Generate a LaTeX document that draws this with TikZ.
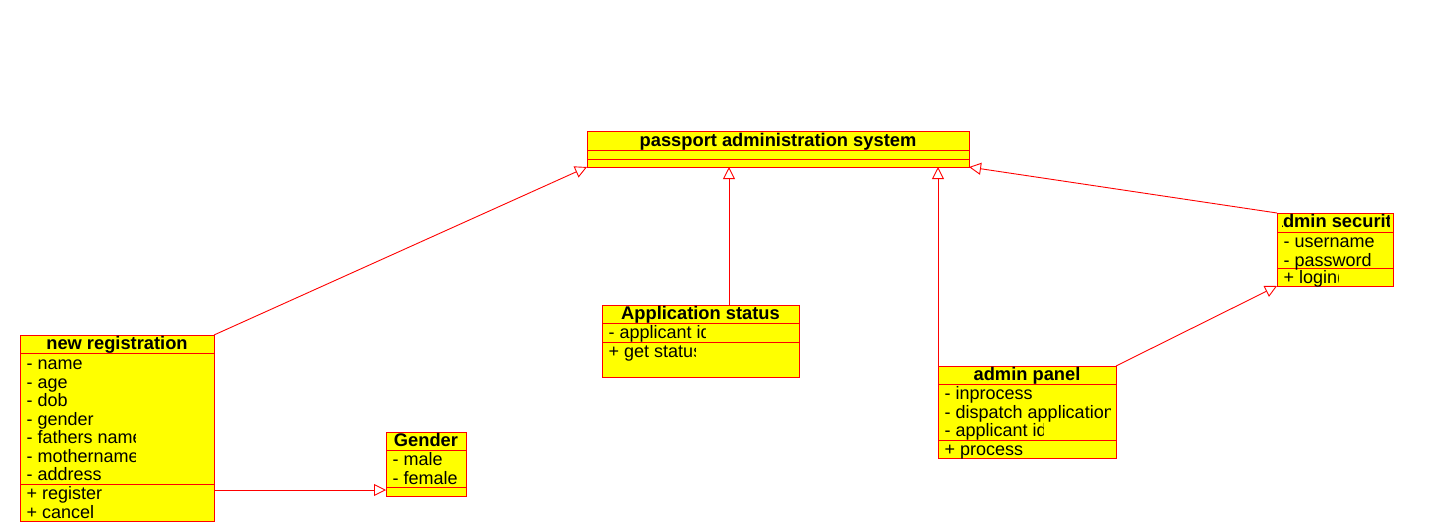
\documentclass[tikz,border=0pt]{standalone}
\usepackage{fontspec}
\setmainfont{Liberation Sans}
\usetikzlibrary{arrows.meta}
\definecolor{boxfill}{RGB}{255,255,0}
\definecolor{boxline}{RGB}{255,0,0}
\tikzset{
 cls/.style={draw=boxline, fill=boxfill, line width=0.9pt, inner sep=0pt, outer sep=0pt, anchor=north west},
 sep/.style={draw=boxline, line width=0.9pt},
 ttl/.style={font=\fontsize{18.3}{19}\selectfont\bfseries, inner sep=0pt, anchor=base},
 attr/.style={font=\fontsize{18}{19}\selectfont, inner sep=0pt, anchor=base west},
 inh/.style={draw=boxline, line width=0.9pt, -{Triangle[open, length=12pt, width=12pt]}},
}
\newcommand\clipline[5]{\begin{scope}\clip (#2-1,#3-17) rectangle (#4,#3+6);\node[attr] (#1) at (#2,#3) {#5};\end{scope}}
\begin{document}
\begin{tikzpicture}[x=1pt,y=-1pt]
\useasboundingbox (0,0) rectangle (1442,525);
% boxes
\node[cls, minimum width=382pt, minimum height=36pt] (pas) at (587,131) {};
\node[cls, minimum width=194pt, minimum height=186pt] (nr) at (20,335) {};
\node[cls, minimum width=80pt, minimum height=64pt] (g) at (386,432) {};
\node[cls, minimum width=197pt, minimum height=72pt] (as) at (602,305) {};
\node[cls, minimum width=178pt, minimum height=92pt] (ap) at (938,366) {};
\node[cls, minimum width=116pt, minimum height=73pt] (sec) at (1277,213) {};
% separators
\draw[sep] (pas.west |- 0,150) -- (pas.east |- 0,150);
\draw[sep] (pas.west |- 0,159) -- (pas.east |- 0,159);
\draw[sep] (nr.west |- 0,353) -- (nr.east |- 0,353);
\draw[sep] (nr.west |- 0,484) -- (nr.east |- 0,484);
\draw[sep] (g.west |- 0,450) -- (g.east |- 0,450);
\draw[sep] (g.west |- 0,487) -- (g.east |- 0,487);
\draw[sep] (as.west |- 0,323) -- (as.east |- 0,323);
\draw[sep] (as.west |- 0,342) -- (as.east |- 0,342);
\draw[sep] (ap.west |- 0,384) -- (ap.east |- 0,384);
\draw[sep] (ap.west |- 0,440) -- (ap.east |- 0,440);
\draw[sep] (sec.west |- 0,232) -- (sec.east |- 0,232);
\draw[sep] (sec.west |- 0,268) -- (sec.east |- 0,268);
% connectors
\draw[inh] (nr.north east) -- (pas.south west);
\draw[inh] ([xshift=127pt]as.north west) -- ([xshift=127pt]as.north west |- pas.south);
\draw[inh] (ap.north west) -- (ap.north west |- pas.south);
\draw[inh] (sec.north west) -- (pas.south east);
\draw[inh] (ap.north east) -- (sec.south west);
\draw[inh] (nr.east |- 0,490) -- (g.west |- 0,490);
% texts
\node[ttl] (past) at (pas.north |- 0,146) {passport administration system};
\node[ttl] (nrt) at (nr.north |- 0,349.5) {new registration};
\node[attr] (nr1) at (26.5,369.5) {- name};
\node[attr] (nr2) at (26.5,388) {- age};
\node[attr] (nr3) at (26.5,406.5) {- dob};
\node[attr] (nr4) at (26.5,425) {- gender};
\clipline{nr5}{26.5}{443.5}{135}{- fathers name}
\clipline{nr6}{26.5}{462}{135}{- mothername}
\node[attr] (nr7) at (26.5,480.5) {- address};
\clipline{nr8}{26.5}{499.5}{101}{+ register}
\clipline{nr9}{26.5}{518}{94}{+ cancel}
\node[ttl] (gt) at (g.north |- 0,446.5) {Gender};
\node[attr] (g1) at (392.5,465.5) {- male};
\node[attr] (g2) at (392.5,484) {- female};
\node[ttl] (ast) at (as.north |- 0,319.5) {Application status};
\clipline{as1}{608.5}{338.5}{705}{- applicant id}
\clipline{as2}{608.5}{357}{695}{+ get status}
\node[ttl] (apt) at (ap.north |- 0,380.5) {admin panel};
\node[attr] (ap1) at (944.5,399.5) {- inprocess};
\clipline{ap2}{944.5}{418}{1110}{- dispatch application}
\clipline{ap3}{944.5}{436.5}{1043}{- applicant id}
\clipline{ap4}{944.5}{455}{1024}{+ process}
\begin{scope}
\clip (1282.5,210) rectangle (1389,231);
\node[ttl] (sect) at ([xshift=2.4pt]sec.north |- 0,227.5) {admin security};
\end{scope}
\node[attr] (sec1) at (1283.5,247.5) {- username};
\clipline{sec2}{1283.5}{266}{1370}{- password}
\clipline{sec3}{1283.5}{283}{1338}{+ login()}
\end{tikzpicture}
\end{document}
